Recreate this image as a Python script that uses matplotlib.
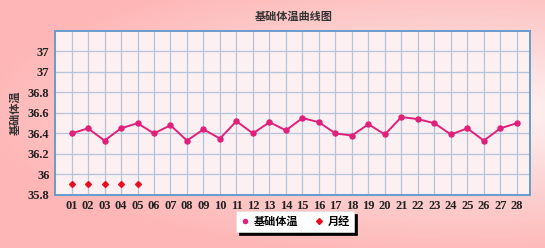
import numpy as np
import matplotlib
matplotlib.use('Agg')
import matplotlib.pyplot as plt
from matplotlib.colors import LinearSegmentedColormap

plt.rcParams['font.family'] = ['Liberation Serif', 'Noto Sans CJK SC']

# data
days = ['01', '02', '03', '04', '05', '06', '07', '08', '09', '10',
        '11', '12', '13', '14', '15', '16', '17', '18', '19', '20',
        '21', '22', '23', '24', '25', '26', '27', '28']
temps = [36.40, 36.45, 36.33, 36.45, 36.50, 36.40, 36.48, 36.33, 36.44, 36.35,
         36.52, 36.40, 36.51, 36.43, 36.55, 36.51, 36.40, 36.38, 36.49, 36.39,
         36.56, 36.54, 36.50, 36.39, 36.45, 36.33, 36.45, 36.50]
period_days = ['01', '02', '03', '04', '05']
period_vals = [35.91, 35.91, 35.91, 35.91, 35.91]
ytick_vals = [35.8, 36.0, 36.2, 36.4, 36.6, 36.8, 37.0, 37.2]
ytick_labels = ['35.8', '36', '36.2', '36.4', '36.6', '36.8', '37', '37']

fig = plt.figure(figsize=(5.45, 2.48), dpi=100)

# pink gradient background, lighter toward the right middle
bg = fig.add_axes([0, 0, 1, 1], zorder=-10)
yy, xx = np.mgrid[0:1:200j, 0:1:400j]
dist = np.sqrt(((xx - 0.85) / 0.9) ** 2 + ((yy - 0.45) / 0.6) ** 2)
cmap = LinearSegmentedColormap.from_list('bgpink', ['#fff6f6', '#fcd4d4', '#ffb6b6'])
bg.imshow(dist, cmap=cmap, aspect='auto', extent=[0, 1, 0, 1], vmin=0, vmax=1.0)
bg.axis('off')

ax = fig.add_axes([0.101, 0.214, 0.8715, 0.661])
ax.set_facecolor('#fdf0f2')

x = np.arange(1, len(days) + 1)
xp = [days.index(d) + 1 for d in period_days]

ax.plot(x, temps, color='#e0207a', lw=1.4, marker='o', ms=3.6, label='基础体温', zorder=3)
ax.plot(xp, period_vals, ls='none', color='#e81020', marker='D', ms=3, label='月经', zorder=3)

ax.set_xlim(0, 28.8)
ax.set_ylim(35.8, 37.4)
ax.set_xticks(x)
ax.set_xticklabels(days)
ax.set_yticks(ytick_vals)
ax.set_yticklabels(ytick_labels)
ax.tick_params(length=0, labelsize=9, colors='#222222', pad=4)
for lab in ax.get_xticklabels() + ax.get_yticklabels():
    lab.set_fontweight('bold')

ax.grid(True, color='#b6c4da', lw=0.9)
ax.set_axisbelow(True)
for s in ax.spines.values():
    s.set_color('#6a9bd0')
    s.set_linewidth(1.4)

fig.text(0.538, 0.935, '基础体温曲线图', ha='center', va='center',
         fontsize=8, fontweight='bold', color='#333333', family='Noto Sans CJK SC')
fig.text(0.028, 0.545, '基础体温', ha='center', va='center', rotation=90,
         fontsize=8, fontweight='bold', color='#333333', family='Noto Sans CJK SC')

leg = fig.legend(loc='center', bbox_to_anchor=(0.542, 0.107), ncol=2,
                 frameon=True, fancybox=False,
                 shadow={'color': 'black', 'alpha': 1.0},
                 handlelength=0.8, handletextpad=0.4, columnspacing=1.5,
                 borderpad=0.35, framealpha=1.0,
                 prop={'family': 'Noto Sans CJK SC', 'weight': 'bold', 'size': 8})
leg.get_frame().set_edgecolor('#dddddd')
leg.get_frame().set_linewidth(0.5)
for h in leg.legend_handles:
    h.set_linestyle('none')
    h.set_markersize(3)

fig.savefig('out.png', dpi=100)
